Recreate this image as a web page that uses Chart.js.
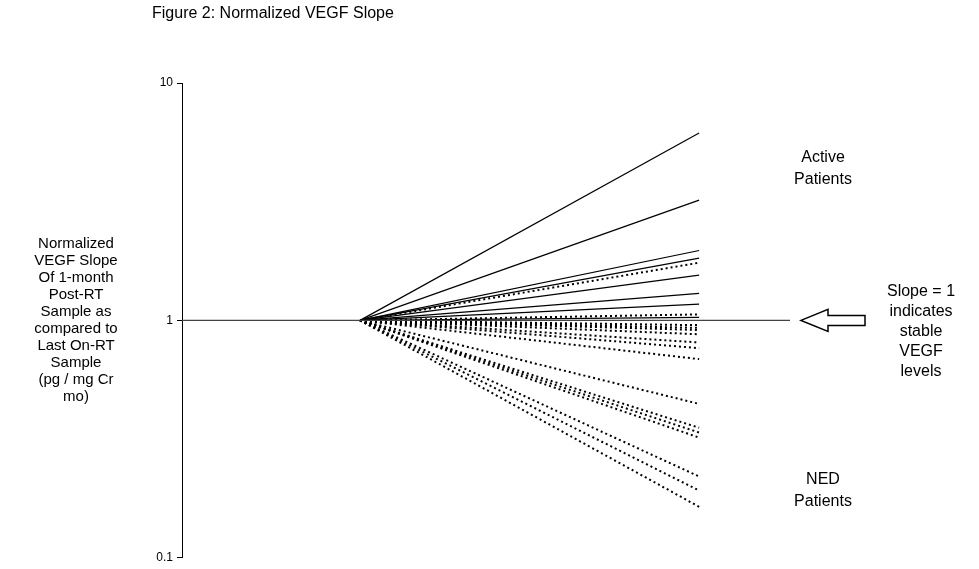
<!DOCTYPE html>
<html>
<head>
<meta charset="utf-8">
<script src="https://cdn.jsdelivr.net/npm/chart.js@4.4.0/dist/chart.umd.min.js"></script>
<style>
  html, body { margin: 0; padding: 0; background: #fff; }
</style>
</head>
<body>
<canvas id="chart-vegf" width="979" height="569"></canvas>
<script>
  // ============ DATA ============
  const chartTitle = "Figure 2: Normalized VEGF Slope";
  const yTicks = [0.1, 1, 10];
  const timePoints = [0, 1];              // last on-RT sample -> 1-month post-RT
  const baselineSpan = [-0.525, 1.268];   // reference line (slope = 1)
  const activeEnds = [6.16, 3.21, 1.97, 1.83, 1.55, 1.30, 1.17, 1.03];
  const nedEnds = [1.75, 1.06, 0.955, 0.93, 0.911, 0.874, 0.807, 0.764, 0.687,
                   0.445, 0.353, 0.337, 0.321, 0.220, 0.192, 0.164];

  const yTitleLines = ["Normalized", "VEGF Slope", "Of 1-month", "Post-RT", "Sample as",
                       "compared to", "Last On-RT", "Sample", "(pg / mg Cr", "mo)"];
  const activeLabel = ["Active", "Patients"];
  const nedLabel = ["NED", "Patients"];
  const slopeLabel = ["Slope = 1", "indicates", "stable", "VEGF", "levels"];

  // ============ DATASETS ============
  const fanLine = (end, dotted) => ({
    data: [{ x: timePoints[0], y: 1 }, { x: timePoints[1], y: end }],
    borderColor: "#000",
    borderWidth: dotted ? 2 : 1.2,
    borderDash: dotted ? [2, 3] : [],
    pointRadius: 0,
    fill: false
  });

  const datasets = [
    {
      data: baselineSpan.map(x => ({ x, y: 1 })),
      borderColor: "#444",
      borderWidth: 1.3,
      pointRadius: 0
    },
    ...activeEnds.map(v => fanLine(v, false)),
    ...nedEnds.map(v => fanLine(v, true))
  ];

  const FONT = '"Liberation Sans", Arial, sans-serif';

  // texto + flecha
  const textPlugin = {
    id: "vegfText",
    afterDraw(chart) {
      const { ctx, chartArea, scales: { y } } = chart;
      const y1 = y.getPixelForValue(1);
      ctx.save();
      ctx.fillStyle = "#000";
      ctx.textBaseline = "middle";

      ctx.font = "16px " + FONT;
      ctx.textAlign = "left";
      ctx.fillText(chartTitle, 152, 14);

      ctx.font = "15px " + FONT;
      ctx.textAlign = "center";
      yTitleLines.forEach((t, i) => ctx.fillText(t, 76, y1 - 77 + i * 17));

      ctx.font = "16px " + FONT;
      activeLabel.forEach((t, i) => ctx.fillText(t, 823, 158 + i * 22));
      nedLabel.forEach((t, i) => ctx.fillText(t, 823, 480 + i * 22));
      slopeLabel.forEach((t, i) => ctx.fillText(t, 921, y1 - 29 + i * 20));

      // flecha hueca
      const tip = chartArea.right + 11;
      ctx.beginPath();
      ctx.moveTo(tip, y1);
      ctx.lineTo(tip + 27, y1 - 11);
      ctx.lineTo(tip + 27, y1 - 5);
      ctx.lineTo(tip + 64, y1 - 5);
      ctx.lineTo(tip + 64, y1 + 5);
      ctx.lineTo(tip + 27, y1 + 5);
      ctx.lineTo(tip + 27, y1 + 11);
      ctx.closePath();
      ctx.lineWidth = 1.5;
      ctx.strokeStyle = "#000";
      ctx.stroke();
      ctx.restore();
    }
  };

  const ctxVegf = document.getElementById("chart-vegf").getContext("2d");

  const chartVegf = new Chart(ctxVegf, {
    type: "line",
    data: { datasets },
    plugins: [textPlugin],
    options: {
      responsive: false,
      animation: false,
      devicePixelRatio: 1,
      layout: { padding: { left: 140, right: 189, top: 83, bottom: 8 } },
      plugins: { legend: { display: false }, tooltip: { enabled: false } },
      scales: {
        x: {
          type: "linear",
          display: false,
          min: baselineSpan[0],
          max: baselineSpan[1]
        },
        y: {
          type: "logarithmic",
          min: yTicks[0],
          max: yTicks[yTicks.length - 1],
          afterBuildTicks: s => { s.ticks = yTicks.map(v => ({ value: v })); },
          afterFit: s => { s.width = 42; },
          ticks: {
            color: "#000",
            font: { family: FONT, size: 12 },
            padding: 4,
            callback: v => String(v)
          },
          grid: { drawOnChartArea: false, drawTicks: true, tickLength: 5, color: "#000" },
          border: { display: true, color: "#000", width: 1 }
        }
      }
    }
  });
</script>
</body>
</html>
